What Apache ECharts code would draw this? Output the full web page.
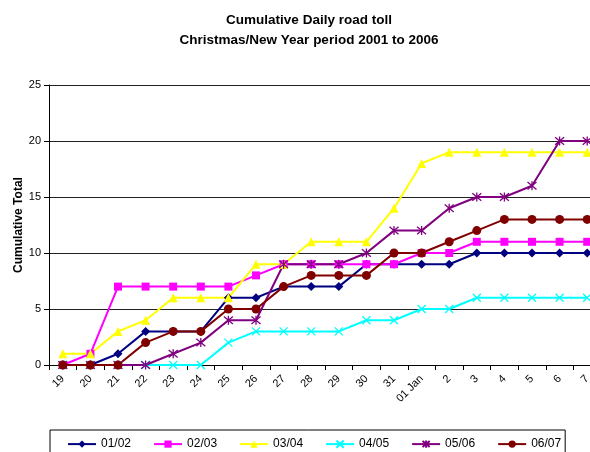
<!DOCTYPE html>
<html>
<head>
<meta charset="utf-8">
<script src="https://cdn.jsdelivr.net/npm/echarts@6/dist/echarts.min.js"></script>
<style>
  html, body { margin: 0; padding: 0; background: #fff; overflow: hidden; }
  /* 画布比窗口宽一点，右侧被裁掉，和原图一样 */
  #main { width: 601px; height: 452px; }
</style>
</head>
<body>
<div id="main"></div>
<script>
// 横轴日期
var days = ['19', '20', '21', '22', '23', '24', '25', '26', '27', '28', '29', '30', '31', '01 Jan', '2', '3', '4', '5', '6', '7'];

// 各年度累计数
var s0102 = [0, 0, 1, 3, 3, 3, 6, 6, 7, 7, 7, 9, 9, 9, 9, 10, 10, 10, 10, 10];
var s0203 = [0, 1, 7, 7, 7, 7, 7, 8, 9, 9, 9, 9, 9, 10, 10, 11, 11, 11, 11, 11];
var s0304 = [1, 1, 3, 4, 6, 6, 6, 9, 9, 11, 11, 11, 14, 18, 19, 19, 19, 19, 19, 19];
var s0405 = [0, 0, 0, 0, 0, 0, 2, 3, 3, 3, 3, 4, 4, 5, 5, 6, 6, 6, 6, 6];
var s0506 = [0, 0, 0, 0, 1, 2, 4, 4, 9, 9, 9, 10, 12, 12, 14, 15, 15, 16, 20, 20];
var s0607 = [0, 0, 0, 2, 3, 3, 5, 5, 7, 8, 8, 8, 10, 10, 11, 12, 13, 13, 13, 13];

var yTicks = [0, 5, 10, 15, 20, 25];

var font = 'Liberation Sans, Arial, sans-serif';

var crossPath = 'path://M0,0L10,10M10,0L0,10';
var starPath = 'path://M0,0L10,10M10,0L0,10M5,-1L5,11';

function mkSeries(name, data, color, symbol, size, stroke) {
    var s = {
        name: name,
        type: 'line',
        data: data,
        symbol: symbol,
        symbolSize: size,
        showAllSymbol: true,
        lineStyle: { color: color, width: 2 },
        itemStyle: { color: color },
        emphasis: { disabled: true }
    };
    if (stroke) {
        // 叉号星号只描边
        s.itemStyle = { color: 'none', borderColor: color, borderWidth: 1.3 };
    }
    return s;
}

var chart = echarts.init(document.getElementById('main'));

var option = {
    animation: false,
    textStyle: { fontFamily: font, color: '#000' },
    title: {
        text: 'Cumulative Daily road toll\nChristmas/New Year period 2001 to 2006',
        left: 304,
        textAlign: 'center',
        top: 5,
        textStyle: { fontFamily: font, fontSize: 13.5, fontWeight: 'bold', color: '#000', lineHeight: 20 }
    },
    legend: {
        left: 50,
        top: 430,
        padding: [8, 4, 12, 17],
        itemGap: 22,
        itemWidth: 28,
        itemHeight: 9,
        borderColor: '#000',
        borderWidth: 1,
        textStyle: { fontFamily: font, fontSize: 12, color: '#000' }
    },
    grid: {
        left: 49,
        right: 0,
        top: 85,
        bottom: 87,
        outerBoundsMode: 'none'
    },
    xAxis: {
        type: 'category',
        data: days,
        boundaryGap: true,
        axisLine: { lineStyle: { color: '#000', width: 1 } },
        axisTick: { show: true, length: 5, lineStyle: { color: '#000' } },
        axisLabel: { rotate: 45, margin: 12, interval: 0, fontSize: 11, color: '#000', fontFamily: font }
    },
    yAxis: {
        type: 'value',
        min: yTicks[0],
        max: yTicks[yTicks.length - 1],
        interval: 5,
        name: 'Cumulative Total',
        nameLocation: 'middle',
        nameGap: 24,
        nameMoveOverlap: false,
        nameTextStyle: { fontFamily: font, fontSize: 12, fontWeight: 'bold', color: '#000' },
        axisLine: { show: true, lineStyle: { color: '#000', width: 1 } },
        axisTick: { show: true, length: 5, lineStyle: { color: '#000' } },
        axisLabel: { fontSize: 11, color: '#000', margin: 8, fontFamily: font },
        splitLine: { show: true, lineStyle: { color: '#222', width: 1 } }
    },
    series: [
        mkSeries('01/02', s0102, '#000080', 'diamond', 9),
        mkSeries('02/03', s0203, '#FF00FF', 'rect', 8),
        mkSeries('03/04', s0304, '#FFFF00', 'triangle', 9),
        mkSeries('04/05', s0405, '#00FFFF', crossPath, 8, true),
        mkSeries('05/06', s0506, '#800080', starPath, 9, true),
        mkSeries('06/07', s0607, '#800000', 'circle', 9)
    ]
};

chart.setOption(option);
</script>
</body>
</html>
